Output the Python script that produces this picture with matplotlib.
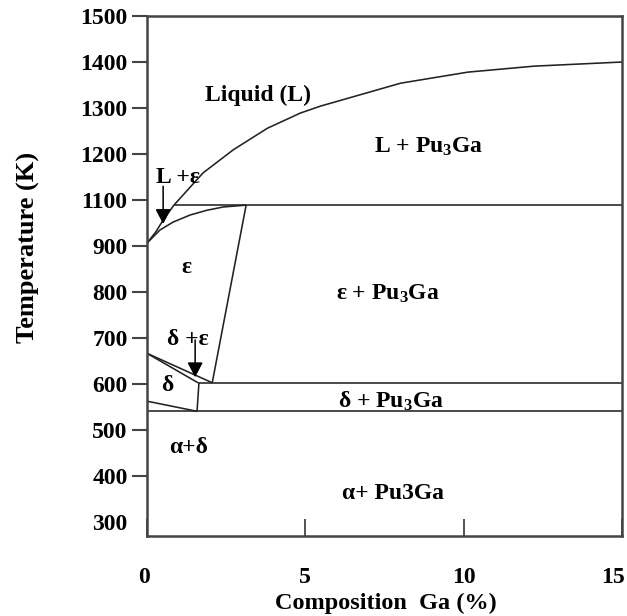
import numpy as np
import matplotlib
matplotlib.use("Agg")
import matplotlib.pyplot as plt
from matplotlib.transforms import ScaledTranslation

plt.rcParams['font.family'] = ['Liberation Serif', 'DejaVu Serif']
plt.rcParams['font.weight'] = 'bold'
plt.rcParams['mathtext.fontset'] = 'custom'
plt.rcParams['mathtext.rm'] = 'Liberation Serif:bold'
plt.rcParams['mathtext.it'] = 'Liberation Serif:bold'
plt.rcParams['mathtext.bf'] = 'Liberation Serif:bold'

# ---- data (composition Ga %, temperature K as labelled on the axis) ----
liquidus_x = [0, 0.27, 0.51, 0.85, 1.77, 2.72, 3.80, 4.84, 5.47, 8.01, 10.13, 12.22, 15.0]
liquidus_T = [913, 960, 1013, 1078, 1159, 1209, 1256, 1289, 1304, 1354, 1378, 1391, 1400]

solidus_x = [0, 0.41, 0.82, 1.36, 1.90, 2.41, 3.13]
solidus_T = [913, 970, 1004, 1035, 1056, 1070, 1078]

peritectic_x = [0.85, 15.0]
peritectic_T = [1078, 1078]

eps_solvus_x = [3.13, 2.06]
eps_solvus_T = [1078, 603]

de_upper_x = [0, 2.06]
de_upper_T = [667, 603]
de_lower_x = [0, 1.61]
de_lower_T = [667, 603]

eutectoid_x = [1.61, 15.0]
eutectoid_T = [603, 603]

delta_right_x = [1.64, 1.58]
delta_right_T = [603, 541]

delta_lower_x = [0, 1.58]
delta_lower_T = [563, 541]

low_line_x = [0, 15.0]
low_line_T = [541, 541]

ytick_vals = [1500, 1400, 1300, 1200, 1100, 900, 800, 700, 600, 500, 400, 300]
ytick_labels = ['1500', '1400', '1300', '1200', '1100', '900', '800', '700', '600', '500', '400', '300']
xtick_vals = [0, 5, 10, 15]
xtick_labels = ['0', '5', '10', '15']

region_labels = ['Liquid (L)', 'L + Pu$_3$Ga', 'L +ε', 'ε', 'ε + Pu$_3$Ga', 'δ +ε', 'δ',
                 'δ + Pu$_3$Ga', 'α+δ', 'α+ Pu3Ga']
region_x = [3.51, 8.89, 0.98, 1.23, 7.60, 1.30, 0.63, 7.69, 1.30, 7.76]
region_T = [1328, 1215, 1150, 854, 796, 696, 596, 563, 463, 363]

arrow_x = [0.51, 1.52]
arrow_T_start = [1130, 696]
arrow_T_end = [996, 615]

# axis compresses 900-1100 K into one tick step
knots_T = [-1e4, 900, 1100, 1e4]
knots_P = [-1e4 + 100, 1000, 1100, 1e4]
def fwd(t):
    return np.interp(t, knots_T, knots_P)
def inv(p):
    return np.interp(p, knots_P, knots_T)

fig = plt.figure(figsize=(6.27, 6.16), dpi=100)
ax = fig.add_axes([147/627, 1-536/616, 475/627, 520/616])
ax.set_yscale('function', functions=(fwd, inv))
ax.set_xlim(0, 15)
ax.set_ylim(270, 1500)

lc = '#222222'
lw = 1.15
for xs, ts in [(liquidus_x, liquidus_T), (solidus_x, solidus_T), (peritectic_x, peritectic_T),
               (eps_solvus_x, eps_solvus_T), (de_upper_x, de_upper_T), (de_lower_x, de_lower_T),
               (eutectoid_x, eutectoid_T), (delta_right_x, delta_right_T),
               (delta_lower_x, delta_lower_T), (low_line_x, low_line_T)]:
    ax.plot(xs, ts, color=lc, lw=lw, solid_capstyle='butt')

for lab, x, t in zip(region_labels, region_x, region_T):
    ax.text(x, t, lab, ha='center', va='center', fontsize=17, fontweight='bold', color='black')

for x, t0, t1 in zip(arrow_x, arrow_T_start, arrow_T_end):
    ax.annotate('', xy=(x, t1), xytext=(x, t0),
                arrowprops=dict(arrowstyle='-|>,head_length=0.9,head_width=0.47',
                                mutation_scale=10, color='black', lw=1.1,
                                shrinkA=0, shrinkB=0))

for s in ax.spines.values():
    s.set_color('#444444')
    s.set_linewidth(1.8)

ax.set_yticks(ytick_vals)
ax.set_yticklabels(ytick_labels)
ax.yaxis.set_minor_locator(matplotlib.ticker.NullLocator())
ax.tick_params(axis='y', direction='out', length=11, width=1.5, color='#444444',
               labelsize=17, pad=3)
ax.yaxis.get_major_ticks()[-1].tick1line.set_visible(False)

ax.set_xticks(xtick_vals)
ax.set_xticklabels(xtick_labels)
ax.tick_params(axis='x', direction='in', length=12, width=1.3, color='#444444',
               labelsize=17, pad=22)
for lbl in ax.get_xticklabels() + ax.get_yticklabels():
    lbl.set_fontweight('bold')
# keep the last x label inside the canvas
last = ax.get_xticklabels()[-1]
last.set_transform(last.get_transform() + ScaledTranslation(-9/100, 0, fig.dpi_scale_trans))
first = ax.get_xticklabels()[0]
first.set_transform(first.get_transform() + ScaledTranslation(-3/100, 0, fig.dpi_scale_trans))

fig.text(386/627, 1-603/616, 'Composition  Ga (%)', ha='center', va='center',
         fontsize=17.5, fontweight='bold')
fig.text(28/627, 1-247/616, 'Temperature (K)', ha='center', va='center',
         rotation=90, fontsize=19, fontweight='bold')

fig.savefig('out.png', dpi=100)
